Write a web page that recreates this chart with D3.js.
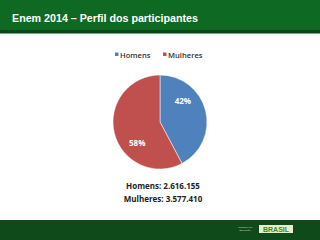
<!DOCTYPE html>
<html>
<head>
<meta charset="utf-8">
<script src="https://cdn.jsdelivr.net/npm/d3@7"></script>
<style>
  body { margin: 0; background: #fff; }
  svg { display: block; }
</style>
</head>
<body>
<div id="chart"></div>
<script>
// Data
const categories = ["Homens", "Mulheres"];
const values = [2616155, 3577410];
const colors = ["#4f81bd", "#c0504d"];
const totalsText = ["Homens: 2.616.155", "Mulheres: 3.577.410"];

const width = 320, height = 240;

const svg = d3.select("#chart")
    .append("svg")
    .attr("width", width)
    .attr("height", height);

// Header bar
svg.append("rect")
    .attr("x", 0).attr("y", 0)
    .attr("width", width).attr("height", 30)
    .attr("fill", "#0e6a22");
svg.append("rect")
    .attr("x", 0).attr("y", 30)
    .attr("width", width).attr("height", 3.5)
    .attr("fill", "#094716");

svg.append("text")
    .attr("x", 12)
    .attr("y", 22)
    .attr("fill", "#fff")
    .style("font-family", "Liberation Sans, Arial, sans-serif")
    .style("font-size", "10.7px")
    .style("font-weight", "bold")
    .text("Enem 2014 – Perfil dos participantes");

// Legend
const legend = svg.append("g")
    .attr("transform", "translate(115, 55)");
const legendX = [0, 48];
categories.forEach((c, i) => {
    legend.append("rect")
        .attr("x", legendX[i])
        .attr("y", -2.5)
        .attr("width", 3.5)
        .attr("height", 3.5)
        .attr("fill", colors[i]);
    legend.append("text")
        .attr("x", legendX[i] + 5)
        .attr("y", 2.5)
        .attr("fill", "#333")
        .style("font-family", "Open Sans, sans-serif")
        .style("font-size", "7.6px")
        .style("font-weight", "600")
        .text(c);
});

// Pie
const cx = 160, cy = 122, r = 47;
const pie = d3.pie().sort(null).value(d => d);
const arcs = pie(values);
const arc = d3.arc().innerRadius(0).outerRadius(r);
const total = d3.sum(values);
// labels sit a little counter-clockwise of the slice middle, as in the original
const labelR = r * 0.66, labelShift = -0.5;

const g = svg.append("g").attr("transform", `translate(${cx},${cy})`);
g.selectAll("path")
    .data(arcs)
    .enter()
    .append("path")
    .attr("d", arc)
    .attr("fill", (d, i) => colors[i])
    .attr("stroke", "#fff")
    .attr("stroke-width", 0.5);

g.selectAll("text.lbl")
    .data(arcs)
    .enter()
    .append("text")
    .attr("class", "lbl")
    .attr("transform", d => {
        const a = (d.startAngle + d.endAngle) / 2 + labelShift;
        return `translate(${labelR * Math.sin(a)},${-labelR * Math.cos(a)})`;
    })
    .attr("text-anchor", "middle")
    .attr("dy", "0.35em")
    .attr("fill", "#fff")
    .style("font-family", "Open Sans, sans-serif")
    .style("font-size", "8px")
    .style("font-weight", "bold")
    .text(d => Math.round(d.value / total * 100) + "%");

// Totals text
totalsText.forEach((t, i) => {
    svg.append("text")
        .attr("x", 163)
        .attr("y", 189 + i * 13)
        .attr("text-anchor", "middle")
        .attr("fill", "#222")
        .style("font-family", "Open Sans, sans-serif")
        .style("font-size", "8px")
        .style("font-weight", "bold")
        .text(t);
});

// Footer
svg.append("rect")
    .attr("x", 0).attr("y", 220)
    .attr("width", width).attr("height", 20)
    .attr("fill", "#0f4b1a");
svg.append("text")
    .attr("x", 245).attr("y", 227.5)
    .attr("text-anchor", "middle")
    .attr("fill", "#cfd8cf")
    .style("font-family", "Liberation Sans, Arial, sans-serif")
    .style("font-size", "2.5px")
    .text("Ministério da");
svg.append("text")
    .attr("x", 245).attr("y", 230.5)
    .attr("text-anchor", "middle")
    .attr("fill", "#cfd8cf")
    .style("font-family", "Liberation Sans, Arial, sans-serif")
    .style("font-size", "2.5px")
    .text("Educação");
svg.append("rect")
    .attr("x", 259).attr("y", 225)
    .attr("width", 34).attr("height", 8)
    .attr("fill", "#e8eecc");
svg.append("text")
    .attr("x", 276).attr("y", 232)
    .attr("text-anchor", "middle")
    .attr("fill", "#3a8a2a")
    .style("font-family", "Liberation Sans, Arial, sans-serif")
    .style("font-size", "7px")
    .style("font-weight", "bold")
    .text("BRASIL");
</script>
</body>
</html>
